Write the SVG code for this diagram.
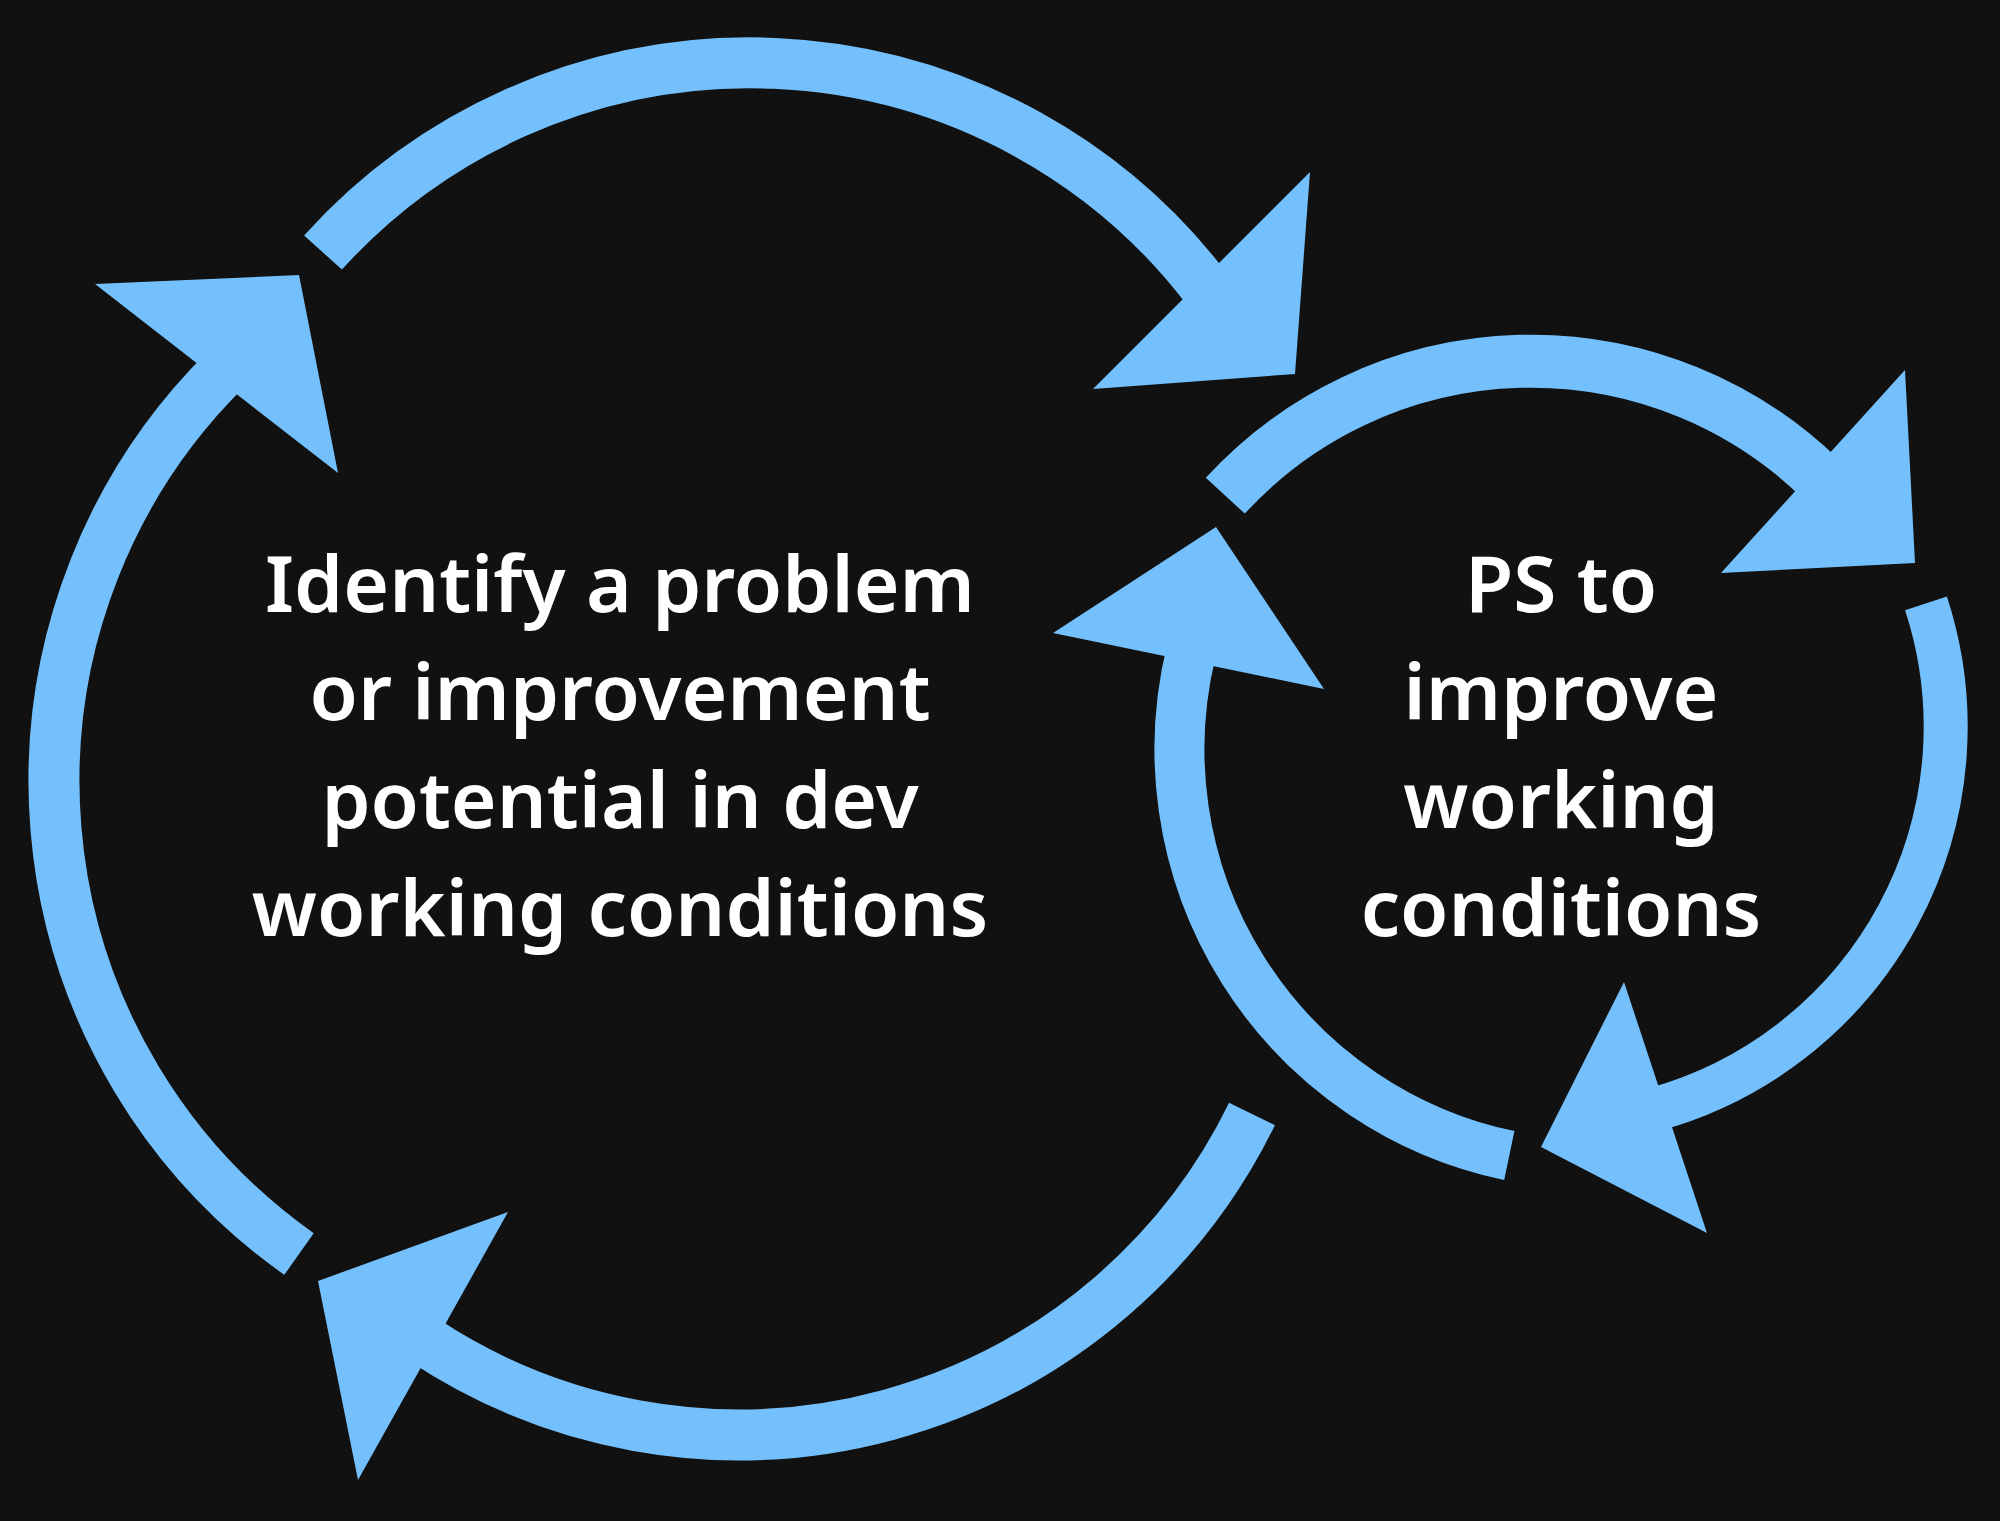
<svg xmlns="http://www.w3.org/2000/svg" width="2000" height="1521" viewBox="0 0 2000 1521">
<style>
.arc { fill: none; stroke: #74c0fc; stroke-linecap: butt; }
.head { fill: #74c0fc; }
.label { font-family: 'Noto Sans', 'Open Sans', sans-serif; font-weight: 600; font-size: 78.5px; fill: #ffffff; text-anchor: middle; }
</style>
<rect x="0" y="0" width="2000" height="1521" fill="#111111"/>
<g id="connectors">
  <g id="big-top">
    <path class="arc" stroke-width="51" d="M 323 252.5 A 575 575 0 0 1 1208.1 290.6"/>
    <polygon class="head" points="1310,172 1295,374 1093,389"/>
  </g>
  <g id="big-left">
    <path class="arc" stroke-width="51" d="M 299 1254 A 579 579 0 0 1 225.7 369.5"/>
    <polygon class="head" points="95,284 299,275 338,473"/>
  </g>
  <g id="big-bottom">
    <path class="arc" stroke-width="51" d="M 1252 1114 A 571 571 0 0 1 423 1339.6"/>
    <polygon class="head" points="508,1212 318,1281 358,1480"/>
  </g>
  <g id="small-top">
    <path class="arc" stroke-width="53" d="M 1225.3 495.7 A 415 415 0 0 1 1820.8 479"/>
    <polygon class="head" points="1905,370 1915,563 1721,573"/>
  </g>
  <g id="small-right">
    <path class="arc" stroke-width="44" d="M 1926 603.3 A 397 397 0 0 1 1654.1 1109.5"/>
    <polygon class="head" points="1624,982 1541,1147 1707,1233"/>
  </g>
  <g id="small-left">
    <path class="arc" stroke-width="50" d="M 1509.3 1155.5 A 415 415 0 0 1 1191.5 650"/>
    <polygon class="head" points="1053,633 1216,527 1324,689"/>
  </g>
</g>
<g id="node-identify">
  <text class="label" x="620" y="612">Identify a problem</text>
  <text class="label" x="620" y="720">or improvement</text>
  <text class="label" x="620" y="828">potential in dev</text>
  <text class="label" x="620" y="936">working conditions</text>
</g>
<g id="node-ps">
  <text class="label" x="1561" y="612">PS to</text>
  <text class="label" x="1561" y="720">improve</text>
  <text class="label" x="1561" y="828">working</text>
  <text class="label" x="1561" y="936">conditions</text>
</g>
</svg>
